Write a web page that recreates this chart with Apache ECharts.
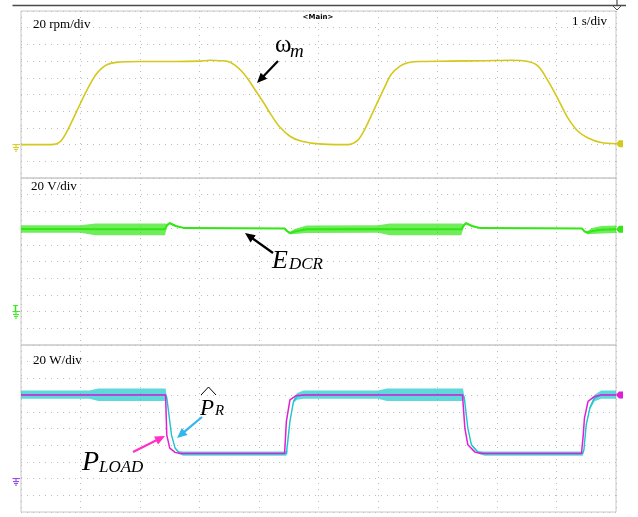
<!DOCTYPE html>
<html><head><meta charset="utf-8">
<script src="https://cdn.jsdelivr.net/npm/echarts@6/dist/echarts.min.js"></script>
<style>html,body{margin:0;padding:0;background:#fff}#c{width:638px;height:517px}</style>
</head><body><div id="c"></div>
<script>
// ---- data ----
const speedT   = [0,0.5,0.6,0.68,0.76,0.85,0.95,1.05,1.15,1.25,1.35,1.45,1.6,2.0,2.6,3.01,3.18,3.35,3.48,3.6,3.72,3.82,3.93,4.07,4.21,4.35,4.52,4.69,4.91,5.15,5.5,5.64,5.72,5.83,6.0,6.12,6.22,6.37,6.5,6.67,7.23,7.8,8.24,8.52,8.69,8.86,9.03,9.19,9.36,9.53,9.75,10];
const speedRpm = [0,0,1,5,14,27,42,57,71,83,91,96,98.5,99.5,99.5,100,101,100.5,99.5,95,87,78,66,51,35,21,10,4.5,1.5,0.3,0,4,11,26,52,70,84,94,98,99.5,100,100.5,101,99.5,94,76,54,32,16,8,2.5,1];

const edcT      = [0,1.0,1.25,2.42,2.45,2.5,2.6,2.75,4.43,4.47,4.52,4.6,4.8,6.0,6.2,7.4,7.44,7.48,7.58,7.72,9.43,9.47,9.52,9.6,9.75,10];
const edcMid    = [99,99,98.5,98.5,103,106,102.5,100,99.5,96.5,94,96,98.5,99,98.5,98.5,103,106,102.5,100,99.5,96,94.5,96.5,98,98.5];
const edcSpread = [4.5,4.5,7,7,2,1,0.8,0.6,0.6,1,1.5,3,4.5,4.5,7,7,2,1,0.8,0.6,0.6,1,2,3.5,4.5,4.5];

const prT      = [0,1.15,1.3,2.43,2.45,2.53,2.59,2.65,2.72,4.46,4.48,4.52,4.58,4.64,4.75,6.0,6.15,7.43,7.45,7.51,7.57,7.68,7.79,9.44,9.46,9.5,9.56,9.64,9.75,10];
const prMid    = [100.5,100.5,100.5,100.5,97,52,36.5,31.5,30,30,32,68.5,92.5,98.5,100.5,100.5,100.5,100.5,97,60.5,40.5,31.5,30,30,34,64.5,84.5,96.5,100.5,100.5];
const prSpread = [5,5,7.5,7.5,1,1,1,1.5,2.5,2.5,1,1,2,4,5,5,7.5,7.5,1,1,1,1.5,2.5,2.5,1,1,2,4,5,5];

const ploadT = [0,2.43,2.45,2.5,2.59,2.67,4.43,4.46,4.52,4.63,4.8,7.42,7.46,7.51,7.63,7.73,9.42,9.45,9.47,9.53,9.64,9.75,10];
const ploadW = [100,100,52,36.5,31.4,30,30,68.5,94.4,99.6,100,100,60.5,40.5,31.7,30,30,52.4,72.5,92.5,98.4,100,100];

const panelLabels = ['20 rpm/div', '20 V/div', '20 W/div'];
const timeLabel = '1 s/div';
const mainLabel = '<Main>';

// ---- styles ----
const C_Y = '#d4c81c', C_G = '#33e615', C_C = '#1cc6cc', C_M = '#e01ed8';
const SERIF = '"Liberation Serif","Times New Roman",serif';

const zip = (a, b) => a.map((v, i) => [v, b[i]]);

const grids = [0, 1, 2].map(i => ({
  left: 21, right: 22, top: 11 + i * 167, height: 167,
  show: true, borderColor: '#c8c8c8', borderWidth: 1, backgroundColor: 'transparent'
}));
const dotted = { show: true, lineStyle: { color: '#bdbdbd', type: [1, 5], width: 1 } };
const xAxes = [0, 1, 2].map(i => ({
  type: 'value', gridIndex: i, min: 0, max: 10, interval: 1,
  axisLine: { show: false }, axisTick: { show: false }, axisLabel: { show: false }, splitLine: dotted
}));
const yAxes = [0, 1, 2].map(i => ({
  type: 'value', gridIndex: i, min: -40, max: 160, interval: 20,
  axisLine: { show: false }, axisTick: { show: false }, axisLabel: { show: false }, splitLine: dotted
}));

// noise envelope band drawn through the axis scales
function band(gi, tArr, mArr, sArr, color, opacity) {
  return {
    type: 'custom', xAxisIndex: gi, yAxisIndex: gi, silent: true, animation: false,
    data: [[tArr[0], mArr[0]]],
    renderItem: function (params, api) {
      const up = tArr.map((t, i) => api.coord([t, mArr[i] + sArr[i]]));
      const lo = tArr.map((t, i) => api.coord([t, mArr[i] - sArr[i]])).reverse();
      return { type: 'polygon', shape: { points: up.concat(lo) }, style: { fill: color, opacity: opacity } };
    }
  };
}

const base = { type: 'line', showSymbol: false, symbol: 'none', silent: true, animation: false };
const series = [
  Object.assign({}, base, { name: 'speed', xAxisIndex: 0, yAxisIndex: 0, data: zip(speedT, speedRpm), smooth: 0.35,
    lineStyle: { color: C_Y, width: 1.6 } }),
  band(1, edcT, edcMid, edcSpread, C_G, 0.7),
  Object.assign({}, base, { name: 'edc', xAxisIndex: 1, yAxisIndex: 1, data: zip(edcT, edcMid),
    lineStyle: { color: C_G, width: 2 } }),
  band(2, prT, prMid, prSpread, C_C, 0.7),
  Object.assign({}, base, { name: 'pr', xAxisIndex: 2, yAxisIndex: 2, data: zip(prT, prMid),
    lineStyle: { color: C_C, width: 1.4 } }),
  Object.assign({}, base, { name: 'pload', xAxisIndex: 2, yAxisIndex: 2, data: zip(ploadT, ploadW),
    lineStyle: { color: C_M, width: 1.5 } })
];

const chart = echarts.init(document.getElementById('c'), null, { renderer: 'canvas' });
chart.setOption({ animation: false, backgroundColor: '#fff', grid: grids, xAxis: xAxes, yAxis: yAxes, series: series });

// ---- decorations ----
const px = (g, t, v) => chart.convertToPixel({ gridIndex: g }, [t, v]);
const G = [];
const line = (x1, y1, x2, y2, color, w) => G.push({ type: 'line', silent: true, z: 50,
  shape: { x1, y1, x2, y2 }, style: { stroke: color, lineWidth: w || 1 } });
const poly = (pts, color) => G.push({ type: 'polygon', silent: true, z: 50, shape: { points: pts }, style: { fill: color } });
const text = (x, y, s, font, align) => G.push({ type: 'text', silent: true, z: 60, x, y,
  style: { text: s, font, fill: '#000', align: align || 'left', verticalAlign: 'middle', textAlign: align || 'left', textVerticalAlign: 'middle' } });
function arrow(x1, y1, x2, y2, color) {
  const dx = x2 - x1, dy = y2 - y1, L = Math.hypot(dx, dy), ux = dx / L, uy = dy / L;
  const hl = 10, hw = 4.5;
  const bx = x2 - ux * hl, by = y2 - uy * hl;
  line(x1, y1, bx + ux, by + uy, color, 2.2);
  poly([[x2, y2], [bx - uy * hw, by + ux * hw], [bx + uy * hw, by - ux * hw]], color);
}
function ground(y, color) {
  line(12.5, y, 20, y, color, 1);
  line(16, y, 16, y + 3, color, 1);
  line(13, y + 3, 19, y + 3, color, 1);
  line(14, y + 4.8, 18, y + 4.8, color, 1);
  line(15, y + 6.5, 17, y + 6.5, color, 1);
}
function endMark(y, color) {
  poly([[616, y], [619, y - 3.5], [623, y - 3.5], [623, y + 3.5], [619, y + 3.5]], color);
}

ground(px(0, 0, 0)[1], C_Y);
const g2 = px(1, 0, 0)[1];
line(13, g2 - 6, 18, g2 - 6, C_G, 1); line(15.5, g2 - 6, 15.5, g2, C_G, 1.5);
ground(g2, C_G);
ground(px(2, 0, 0)[1], '#8a3ee6');
endMark(px(0, 10, speedRpm[speedRpm.length - 1])[1], C_Y);
endMark(px(1, 10, edcMid[edcMid.length - 1])[1], C_G);
endMark(px(2, 10, ploadW[ploadW.length - 1])[1], C_M);

// top bar and trigger marker
line(12.5, 5.5, 626, 5.5, '#4a4a4a', 1.6);
line(617, 0, 617, 6, '#4a4a4a', 1.2);
G.push({ type: 'polyline', silent: true, z: 50, shape: { points: [[613, 6], [617, 10], [621, 6]] }, style: { stroke: '#4a4a4a', lineWidth: 1, fill: null } });

// scale labels
text(33, 25, panelLabels[0], '13px ' + SERIF);
text(31, 186.5, panelLabels[1], '13px ' + SERIF);
text(33, 361, panelLabels[2], '13px ' + SERIF);
text(607, 22, timeLabel, '13px ' + SERIF, 'right');
text(318, 17.5, mainLabel, 'bold 7px "DejaVu Sans"', 'center');

// annotations
text(275, 45, 'ω', '25px ' + SERIF);
text(290, 51.5, 'm', 'italic 19px ' + SERIF);
arrow(278, 61, 257, 83, '#000');

text(272, 261, 'E', 'italic 26px ' + SERIF);
text(289, 265, 'DCR', 'italic 17px ' + SERIF);
arrow(273, 253, 245, 233, '#000');

text(200, 409, 'P', 'italic 23px ' + SERIF);
G.push({ type: 'polyline', silent: true, z: 60, shape: { points: [[201, 395], [208.5, 387], [216, 395]] }, style: { stroke: '#000', lineWidth: 1, fill: null } });
text(215, 411.5, 'R', 'italic 15px ' + SERIF);
arrow(202, 417, 177, 438, '#33b5ee');

text(82, 462.5, 'P', 'italic 28px ' + SERIF);
text(99, 468, 'LOAD', 'italic 17px ' + SERIF);
arrow(133, 452, 165, 436, '#ff2fc8');

chart.setOption({ graphic: { elements: G } });
</script>
</body></html>
